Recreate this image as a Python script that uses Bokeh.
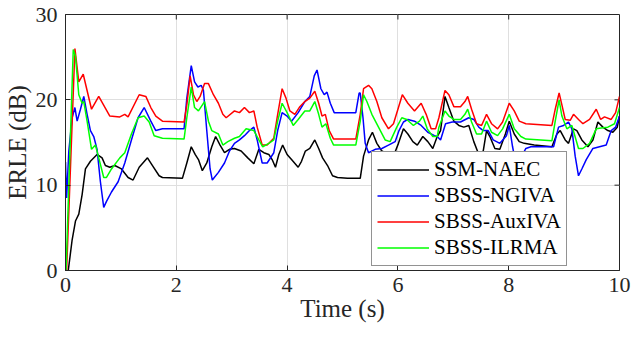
import math
from bokeh.plotting import figure
from bokeh.models import Range1d, FixedTicker, Legend, LegendItem
from bokeh.embed import file_html
from bokeh.resources import INLINE

# ---- data ----
t_naec = [0.05, 0.12, 0.18, 0.24, 0.30, 0.36, 0.45, 0.57, 0.66, 0.72, 0.80, 0.89, 1.01, 1.13, 1.22, 1.33, 1.48, 1.57, 1.69,
          1.75, 2.11, 2.19, 2.27, 2.34, 2.40, 2.47, 2.55, 2.64, 2.71, 2.79, 2.87, 2.96, 3.05, 3.17, 3.29, 3.40,
          3.49, 3.58, 3.67, 3.73, 3.79, 3.85, 3.92, 4.00, 4.08, 4.20, 4.26, 4.33, 4.41, 4.50, 4.57, 4.64, 4.73, 4.82, 4.91,
          5.09, 5.32, 5.38, 5.47, 5.54, 5.62, 5.71, 5.83, 5.92, 6.01, 6.10, 6.18, 6.27, 6.35, 6.45, 6.54, 6.63, 6.71,
          6.77, 6.85, 6.92, 7.01, 7.10, 7.19, 7.28, 7.37, 7.46, 7.54, 7.60, 7.66, 7.75, 7.84, 7.94, 8.01, 8.10, 8.19, 8.28,
          8.46, 8.78, 8.87, 8.93, 9.02, 9.08, 9.17, 9.23, 9.32, 9.43, 9.52, 9.61, 9.70, 9.79, 9.88, 9.96, 10.0]
e_naec = [0.0, 3.6, 5.8, 6.6, 8.9, 11.9, 12.8, 13.6, 13.2, 12.3, 12.1, 12.3, 11.9, 10.9, 10.6, 12.1, 13.2, 12.3, 11.1,
          10.9, 10.8, 12.6, 14.5, 13.6, 13.0, 11.7, 12.6, 14.5, 15.7, 14.7, 13.8, 14.2, 14.3, 14.0, 13.2, 12.5,
          14.2, 13.8, 13.6, 13.0, 12.1, 13.6, 14.7, 13.6, 13.0, 12.1, 12.8, 14.0, 14.3, 15.3, 14.3, 13.2, 12.3, 11.1, 10.9,
          10.8, 10.8, 13.4, 15.3, 16.2, 14.9, 14.0, 13.6, 13.4, 14.9, 16.6, 16.0, 15.1, 14.7, 15.7, 15.1, 14.3, 15.7,
          16.4, 20.4, 19.1, 17.5, 17.0, 16.8, 17.0, 15.1, 13.6, 14.0, 16.4, 15.7, 14.3, 14.2, 16.0, 17.5, 16.0, 15.1, 14.9,
          14.7, 14.5, 16.0, 16.4, 15.3, 14.9, 16.6, 16.4, 15.3, 14.5, 15.3, 17.4, 16.8, 16.4, 16.2, 16.8, 18.1]

t_ngiva = [0.0, 0.02, 0.06, 0.12, 0.17, 0.21, 0.27, 0.33, 0.39, 0.45, 0.51, 0.57, 0.63, 0.69, 0.74, 0.83, 0.95, 1.07, 1.19, 1.31, 1.42, 1.54, 1.63,
           1.75, 2.14, 2.19, 2.27, 2.33, 2.39, 2.45, 2.49, 2.55, 2.61, 2.65, 2.76, 2.87, 2.96, 3.05, 3.14, 3.23, 3.32, 3.40,
           3.46, 3.55, 3.64, 3.76, 3.83, 3.91, 4.00, 4.08, 4.20, 4.32, 4.41, 4.49, 4.54, 4.61, 4.67, 4.72, 4.78, 4.85,
           5.24, 5.30, 5.32, 5.37, 5.41, 5.47, 5.59, 5.71, 5.83, 5.95, 6.02, 6.10, 6.18, 6.30, 6.42, 6.54, 6.66, 6.71,
           6.77, 6.86, 6.98, 7.13, 7.28, 7.37, 7.46, 7.54, 7.63, 7.72, 7.84, 7.96, 8.01, 8.07, 8.13, 8.22, 8.31, 8.40,
           8.81, 8.90, 8.99, 9.08, 9.14, 9.20, 9.26, 9.32, 9.40, 9.52, 9.64, 9.76, 9.85, 9.93, 10.0]
e_ngiva = [12.7, 8.5, 14.0, 17.9, 19.1, 17.5, 18.9, 20.4, 18.3, 16.4, 15.7, 14.2, 10.4, 7.4, 8.1, 9.2, 10.4, 12.6, 15.3, 17.9, 19.1, 17.5, 16.4,
           16.6, 16.6, 20.2, 24.0, 22.1, 21.5, 21.7, 21.1, 16.4, 11.9, 10.6, 11.5, 12.6, 14.0, 14.9, 15.3, 15.8, 16.4, 16.8,
           15.3, 12.6, 12.6, 13.8, 16.4, 18.5, 18.1, 17.5, 18.5, 19.8, 20.4, 22.8, 23.5, 21.3, 20.6, 20.9, 19.6, 18.5,
           18.5, 20.8, 20.8, 17.9, 14.9, 13.8, 14.2, 14.3, 14.7, 15.1, 16.4, 17.4, 17.7, 17.5, 17.0, 16.2, 15.8, 15.7,
           15.3, 17.2, 17.4, 17.4, 17.9, 17.7, 16.8, 16.4, 16.4, 15.3, 14.9, 15.8, 17.0, 14.5, 12.5, 13.2, 14.3, 14.5,
           14.5, 16.8, 17.0, 17.4, 16.6, 13.4, 11.1, 11.9, 13.0, 14.3, 14.5, 14.7, 16.4, 16.8, 18.1]

t_auxiva = [0.02, 0.17, 0.24, 0.32, 0.47, 0.60, 0.80, 0.98, 1.07, 1.13, 1.33, 1.45, 1.54, 1.63,
            1.75, 2.14, 2.19, 2.25, 2.31, 2.37, 2.43, 2.51, 2.58, 2.67, 2.76, 2.84, 2.90, 3.05, 3.14, 3.23, 3.32, 3.40,
            3.46, 3.55, 3.64, 3.76, 3.83, 3.91, 3.98, 4.05, 4.14, 4.23, 4.32, 4.41, 4.50, 4.57, 4.63, 4.69, 4.76, 4.84,
            5.24, 5.32, 5.38, 5.47, 5.53, 5.62, 5.71, 5.83, 5.92, 6.01, 6.08, 6.18, 6.30, 6.42, 6.51, 6.60, 6.68,
            6.74, 6.85, 6.92, 7.01, 7.13, 7.21, 7.26, 7.33, 7.42, 7.51, 7.60, 7.69, 7.80, 7.89, 8.01, 8.10, 8.19, 8.31,
            8.78, 8.84, 8.91, 8.96, 9.02, 9.11, 9.17, 9.26, 9.34, 9.46, 9.58, 9.66, 9.73, 9.85, 9.93, 10.0]
e_auxiva = [0.0, 26.0, 22.1, 23.0, 18.9, 20.4, 18.1, 18.0, 18.3, 18.0, 20.6, 20.4, 19.1, 18.1,
            17.5, 17.4, 19.4, 22.8, 20.6, 19.8, 20.4, 21.9, 21.9, 20.6, 19.6, 18.3, 17.9, 18.7, 18.5, 19.1, 18.5, 18.7,
            16.8, 14.7, 14.7, 15.5, 18.3, 21.3, 20.2, 18.7, 18.3, 19.2, 19.8, 20.2, 21.0, 19.6, 18.1, 18.3, 16.4, 15.4,
            15.4, 18.3, 21.3, 21.7, 21.3, 19.8, 17.9, 16.6, 17.2, 19.1, 20.6, 19.6, 18.7, 19.6, 18.3, 16.6, 16.6,
            17.9, 21.1, 20.6, 19.2, 19.2, 19.8, 20.4, 18.9, 17.2, 17.0, 18.3, 17.2, 16.6, 17.4, 19.6, 18.7, 17.5, 17.2,
            17.0, 18.9, 20.8, 19.4, 17.7, 17.6, 18.3, 17.7, 17.2, 17.7, 18.9, 17.7, 18.0, 17.7, 18.5, 20.4]

t_ilrma = [0.01, 0.14, 0.18, 0.24, 0.30, 0.33, 0.39, 0.47, 0.54, 0.60, 0.69, 0.74, 0.83, 0.98, 1.07, 1.19, 1.31, 1.42, 1.51, 1.60,
           1.75, 2.14, 2.19, 2.27, 2.33, 2.40, 2.51, 2.58, 2.64, 2.76, 2.84, 2.93, 3.05, 3.14, 3.26, 3.40,
           3.49, 3.56, 3.67, 3.76, 3.83, 3.91, 4.00, 4.11, 4.20, 4.32, 4.41, 4.50, 4.57, 4.63, 4.70, 4.78, 4.84,
           5.24, 5.32, 5.38, 5.44, 5.53, 5.65, 5.77, 5.86, 5.98, 6.07, 6.16, 6.28, 6.39, 6.45, 6.53, 6.63, 6.71,
           6.74, 6.85, 6.92, 7.01, 7.13, 7.21, 7.26, 7.33, 7.42, 7.51, 7.60, 7.69, 7.80, 7.89, 8.01, 8.10, 8.22, 8.31,
           8.78, 8.84, 8.91, 8.96, 9.05, 9.14, 9.26, 9.34, 9.46, 9.58, 9.67, 9.79, 9.91, 10.0]
e_ilrma = [0.0, 25.9, 25.1, 20.6, 19.6, 19.8, 17.5, 14.2, 14.7, 13.2, 10.9, 10.9, 11.9, 13.2, 13.8, 16.0, 17.9, 18.1, 17.4, 15.8,
           15.5, 15.4, 17.9, 21.5, 19.1, 18.7, 19.8, 17.5, 16.4, 16.0, 14.7, 15.1, 15.5, 15.7, 16.6, 16.4,
           15.3, 14.5, 14.9, 15.3, 17.5, 19.6, 18.5, 17.0, 17.7, 18.7, 18.7, 19.8, 18.3, 16.8, 17.2, 15.5, 14.7,
           14.7, 17.5, 20.6, 19.8, 18.3, 16.8, 15.3, 15.1, 16.8, 17.9, 17.7, 17.0, 17.5, 18.1, 16.6, 15.7, 15.7,
           16.8, 18.7, 18.1, 17.7, 17.7, 18.3, 18.9, 17.4, 16.0, 16.0, 17.5, 16.2, 15.8, 16.6, 18.3, 16.6, 15.7, 15.4,
           15.2, 17.5, 20.0, 18.1, 16.6, 17.0, 14.3, 14.3, 14.9, 16.6, 16.7, 16.8, 17.2, 19.1]

series_names = ["SSM-NAEC", "SBSS-NGIVA", "SBSS-AuxIVA", "SBSS-ILRMA"]
series_colors = ["#000000", "#0000ff", "#ff0000", "#00ff00"]
x_ticks = [0, 2, 4, 6, 8, 10]
y_ticks = [0, 10, 20, 30]

FONT = "Liberation Serif"
AX = "#262626"

p = figure(frame_width=554, frame_height=256, output_backend="svg", toolbar_location=None,
           x_range=Range1d(x_ticks[0], x_ticks[-1]), y_range=Range1d(y_ticks[0], y_ticks[-1]),
           min_border_left=0, min_border_top=14, min_border_right=13, min_border_bottom=0)
p.background_fill_color = "white"
p.outline_line_color = AX
p.outline_line_width = 1

for ax in (p.xaxis[0], p.yaxis[0]):
    ax.major_label_text_font = FONT
    ax.major_label_text_font_size = "22px"
    ax.major_label_text_color = AX
    ax.axis_label_text_font = FONT
    ax.axis_label_text_font_size = "25px"
    ax.axis_label_text_font_style = "normal"
    ax.axis_label_text_color = AX
    ax.axis_line_color = AX
    ax.major_tick_line_color = AX
    ax.major_tick_in = 5
    ax.major_tick_out = 0
    ax.minor_tick_line_color = None
p.xaxis[0].ticker = FixedTicker(ticks=x_ticks)
p.yaxis[0].ticker = FixedTicker(ticks=y_ticks)
p.xaxis[0].axis_label = "Time (s)"
p.yaxis[0].axis_label = "ERLE (dB)"
p.xaxis[0].major_label_standoff = 7
p.yaxis[0].major_label_standoff = 8
p.xaxis[0].axis_label_standoff = 0
p.yaxis[0].axis_label_standoff = 2

p.xgrid.ticker = FixedTicker(ticks=x_ticks)
p.ygrid.ticker = FixedTicker(ticks=y_ticks)
p.grid.grid_line_color = "#dfdfdf"
p.grid.grid_line_width = 1

# inward ticks on the top and right edges of the box
p.scatter(x=x_ticks[1:-1], y=[y_ticks[-1]] * (len(x_ticks) - 2), marker="dash", angle=math.pi / 2,
          size=10, line_color=AX, line_width=1)
p.scatter(x=[x_ticks[-1]] * (len(y_ticks) - 2), y=y_ticks[1:-1], marker="dash",
          size=10, line_color=AX, line_width=1)

data = [(t_naec, e_naec), (t_ngiva, e_ngiva), (t_auxiva, e_auxiva), (t_ilrma, e_ilrma)]
items = []
for (tx, ey), name, col in zip(data, series_names, series_colors):
    r = p.line(tx, ey, line_color=col, line_width=1.5)
    items.append(LegendItem(label=name, renderers=[r]))

legend = Legend(items=items, location=(306, 4))
legend.label_text_font = FONT
legend.label_text_font_size = "21px"
legend.label_text_color = "#000000"
legend.glyph_width = 52
legend.glyph_height = 21
legend.label_height = 21
legend.label_standoff = 5
legend.spacing = 1
legend.padding = 5
legend.margin = 0
legend.border_line_color = AX
legend.border_line_width = 1
legend.background_fill_alpha = 1
p.add_layout(legend, "center")

open("out.html", "w").write(file_html(p, INLINE))
